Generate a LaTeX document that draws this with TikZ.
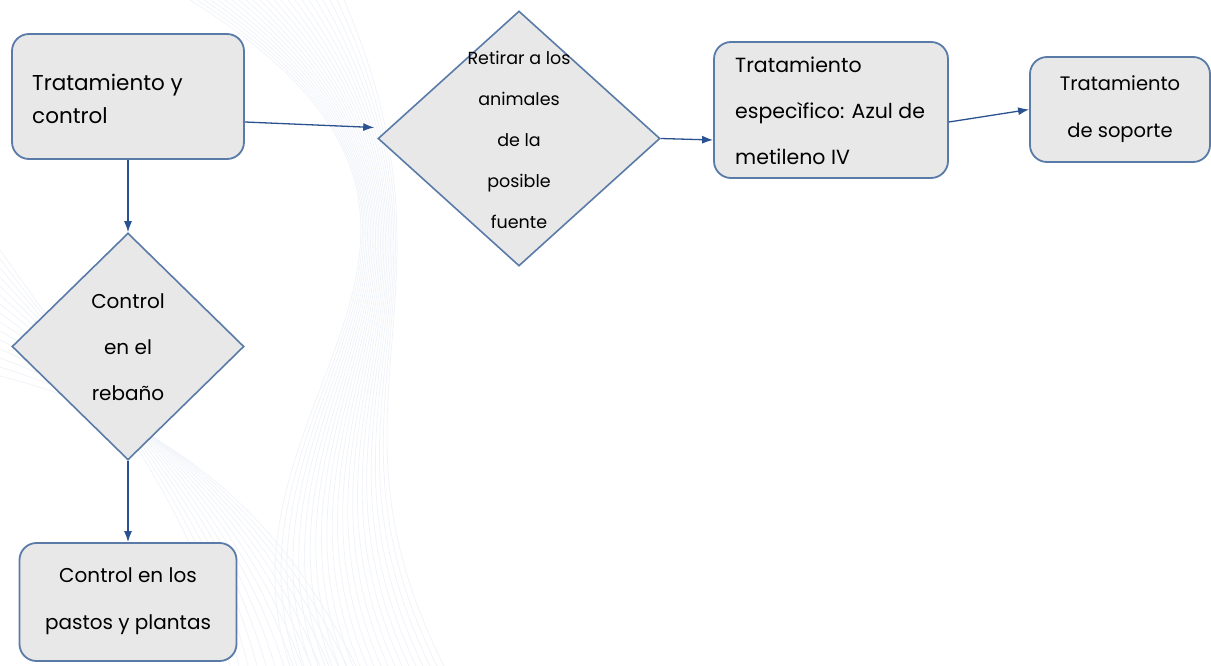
\documentclass[tikz,border=0pt]{standalone}
\usepackage{fontspec}
\setmainfont{Poppins}
\usetikzlibrary{shapes.geometric,arrows.meta}
\definecolor{boxfill}{HTML}{E8E8E8}
\definecolor{boxline}{HTML}{5A7BA8}
\definecolor{arrowcol}{HTML}{2A5190}
\definecolor{wave}{HTML}{F0F3F8}
\tikzset{
  rbox/.style={draw=boxline,fill=boxfill,line width=1.8pt,rounded corners=17pt,inner sep=0pt},
  dshape/.style={draw=boxline,fill=boxfill,line width=1.6pt,diamond,inner sep=0pt},
  txt/.style={inner sep=0pt,text=black},
  conn/.style={draw=arrowcol,line width=1.3pt,-{Latex[length=11pt,width=8pt]}},
  wavy/.style={draw=wave,line width=0.8pt}
}
\begin{document}
\begin{tikzpicture}[x=1pt,y=-1pt]
\useasboundingbox (0,0) rectangle (1211,666);
% faint background waves
\foreach \i in {0,...,22}{
  \draw[wavy] (190+7*\i,0) .. controls (560-4*\i,230+3*\i) and (200+5*\i,400) .. (290+7*\i,666);
}
\foreach \i in {0,...,14}{
  \draw[wavy] (0,250+9*\i) .. controls (120+4*\i,420) and (200+6*\i,520) .. (230+9*\i,666);
}
% boxes
\node[rbox,minimum width=232pt,minimum height=125pt] (b1) at (128,96.5) {};
\node[rbox,minimum width=234pt,minimum height=136pt] (b2) at (831,110) {};
\node[rbox,minimum width=180pt,minimum height=105pt] (b3) at (1120,109.5) {};
\node[rbox,minimum width=217pt,minimum height=118pt] (b4) at (128,602) {};
% diamonds
\node[dshape,minimum width=282pt,minimum height=255pt] (d1) at (519,138.5) {};
\node[dshape,minimum width=232pt,minimum height=227pt] (d2) at (128,346.5) {};
% texts
\node[txt,anchor=west,align=left,font=\fontsize{21.5}{33}\selectfont] (t1) at (32,98.5) {Tratamiento y\\control};
\node[txt,anchor=west,align=left,font=\fontsize{20.5}{46}\selectfont] (t2) at (735,111) {Tratamiento\\especìfico: Azul de\\metileno IV};
\node[txt,align=center,font=\fontsize{19.5}{47}\selectfont] (t3) at (1120,109.5) {Tratamiento\\de soporte};
\node[txt,align=center,font=\fontsize{20}{47}\selectfont] (t4) at (128,601.5) {Control en los\\pastos y plantas};
\node[txt,align=center,font=\fontsize{17.5}{41}\selectfont] (t5) at (519,139.5) {Retirar a los\\animales\\de la\\posible\\fuente};
\node[txt,align=center,font=\fontsize{20}{46}\selectfont] (t6) at (128,347) {Control\\en el\\rebaño};
% connectors
\coordinate (e1) at ([xshift=-3pt,yshift=11pt]d1.west);
\draw[conn] ([yshift=-25.5pt]b1.east) -- (e1);
\draw[conn] (d1.east) -- ([yshift=-30pt]b2.west);
\draw[conn] ([yshift=-12pt]b2.east) -- (b3.west);
\draw[conn] (b1.south) -- (d2.north);
\draw[conn] (d2.south) -- (b4.north);
\end{tikzpicture}
\end{document}
